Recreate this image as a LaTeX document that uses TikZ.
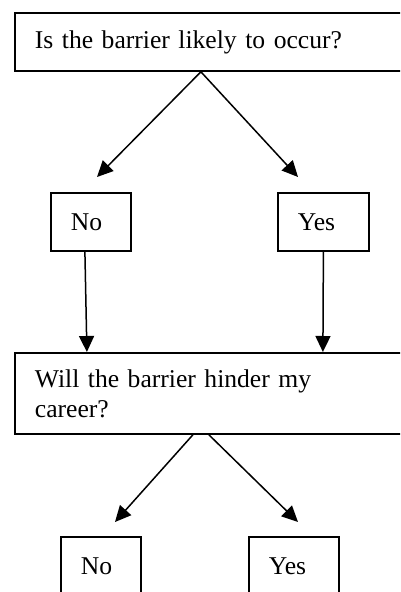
\documentclass[tikz,border=0pt]{standalone}
\usepackage{fontspec}
\setmainfont{Liberation Serif}
\usetikzlibrary{arrows.meta}
\tikzset{
  box/.style={draw,black,line width=1.8pt,rectangle,anchor=north west,
    inner xsep=20pt,inner ysep=0pt,align=left,
    font=\fontsize{25.6}{30}\selectfont},
  link/.style={line width=1.5pt,-{Triangle[length=16pt,width=15pt]}}
}
\begin{document}
\begin{tikzpicture}[x=1pt,y=-1pt]
\useasboundingbox (0,0) rectangle (400,592);
\clip (0,0) rectangle (400,592);

% questions
\node[box,text width=356pt,minimum height=58pt] (q1) at (14,12) {Is the barrier likely to occur?};
\node[box,text width=356pt,minimum height=81pt] (q2) at (14,352) {Will the barrier hinder my\\career?};

% answers
\node[box,text width=40pt,minimum height=58pt] (no1) at (50,192) {No};
\node[box,text width=51pt,minimum height=58pt] (yes1) at (277,192) {Yes};
\node[box,text width=40pt,minimum height=58pt] (no2) at (60,536) {No};
\node[box,text width=50pt,minimum height=58pt] (yes2) at (248,536) {Yes};

% free arrow ends
\coordinate (noTipA) at (97,177);
\coordinate (yesTipA) at (298,177);
\coordinate (noTipB) at (115,522);
\coordinate (yesTipB) at (298,522);

% arrows
\draw[link] ([xshift=-12pt]q1.south) -- (noTipA);
\draw[link] ([xshift=-12pt]q1.south) -- (yesTipA);
\draw[link] ([xshift=-6pt]no1.south) -- ([xshift=-126pt]q2.north);
\draw[link] (yes1.south) -- ([xshift=110pt]q2.north);
\draw[link] ([xshift=-20pt]q2.south) -- (noTipB);
\draw[link] ([xshift=-4pt]q2.south) -- (yesTipB);
\end{tikzpicture}
\end{document}
